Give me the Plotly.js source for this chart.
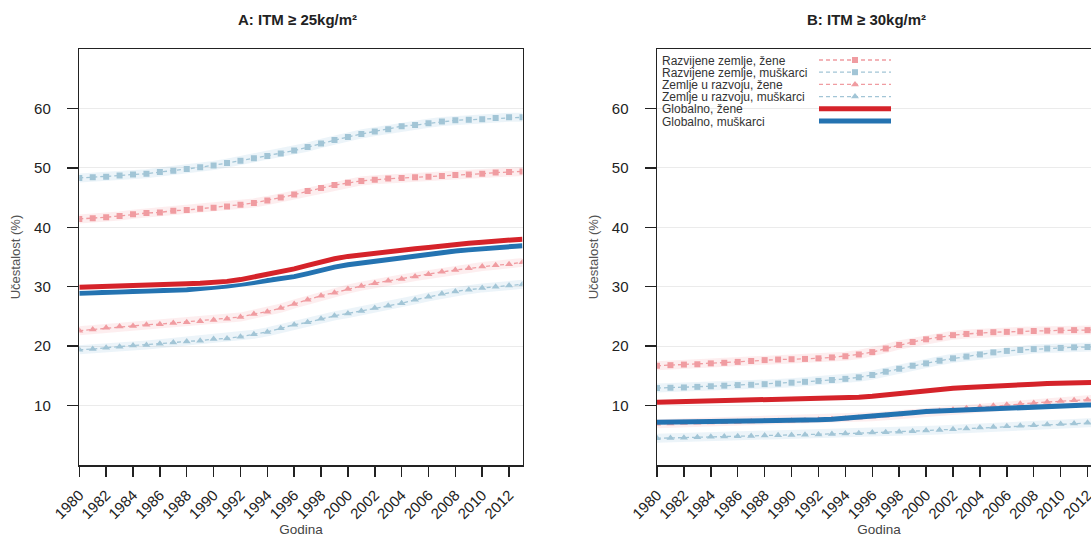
<!DOCTYPE html>
<html>
<head>
<meta charset="utf-8">
<script src="https://cdn.plot.ly/plotly-3.0.1.min.js"></script>
<style>
html, body { margin: 0; padding: 0; overflow: hidden; background: #fff; }
#chart { width: 1115px; height: 537px; }
</style>
</head>
<body>
<div id="chart"></div>
<script>
// ---------------- DATA ----------------
const years = [1980,1981,1982,1983,1984,1985,1986,1987,1988,1989,1990,1991,1992,1993,1994,1995,1996,
               1997,1998,1999,2000,2001,2002,2003,2004,2005,2006,2007,2008,2009,2010,2011,2012,2013];

const seriesNames = ['Razvijene zemlje, žene', 'Razvijene zemlje, muškarci', 'Zemlje u razvoju, žene',
                     'Zemlje u razvoju, muškarci', 'Globalno, žene', 'Globalno, muškarci'];

const panelTitles = ['A: ITM ≥ 25kg/m²', 'B: ITM ≥ 30kg/m²'];
const xTitle = 'Godina';
const yTitle = 'Učestalost (%)';
const yTickVals = [10, 20, 30, 40, 50, 60];

// Panel A: BMI >= 25
const a_devW = [41.4,41.5,41.7,41.9,42.2,42.4,42.5,42.8,42.9,43.1,43.3,43.5,43.8,44.1,44.5,45.0,45.5,
                46.1,46.6,47.1,47.5,47.8,48.0,48.2,48.3,48.4,48.5,48.65,48.8,48.9,49.0,49.2,49.3,49.4];
const a_devM = [48.3,48.4,48.5,48.7,48.9,49.0,49.3,49.5,49.8,50.1,50.4,50.8,51.2,51.6,52.0,52.4,52.9,
                53.5,54.1,54.7,55.2,55.7,56.1,56.5,57.0,57.2,57.5,57.8,58.0,58.1,58.2,58.4,58.5,58.5];
const a_dvgW = [22.6,22.8,23.1,23.3,23.4,23.6,23.7,23.9,24.0,24.2,24.4,24.6,24.9,25.4,25.8,26.4,27.1,
                27.8,28.5,29.0,29.6,30.1,30.6,31.0,31.3,31.7,32.1,32.5,32.8,33.1,33.4,33.6,33.8,34.1];
const a_dvgM = [19.4,19.5,19.75,19.9,20.1,20.2,20.4,20.6,20.8,20.9,21.2,21.3,21.6,22.0,22.4,23.0,23.6,
                24.0,24.6,25.1,25.5,25.9,26.4,26.8,27.2,27.8,28.3,28.8,29.2,29.5,29.8,30.0,30.2,30.4];
const a_gloW = [29.9,29.95,30.0,30.05,30.1,30.2,30.3,30.4,30.5,30.6,30.7,30.9,31.2,31.6,32.0,32.5,33.0,
                33.6,34.2,34.7,35.1,35.4,35.7,35.9,36.1,36.4,36.6,36.9,37.1,37.3,37.5,37.7,37.9,38.0];
const a_gloM = [28.9,28.95,29.0,29.05,29.1,29.2,29.3,29.4,29.5,29.7,29.85,30.1,30.4,30.7,31.0,31.3,31.7,
                32.2,32.8,33.3,33.7,34.0,34.4,34.7,34.9,35.2,35.5,35.8,36.0,36.2,36.4,36.6,36.8,36.9];

// Panel B: BMI >= 30
const b_devW = [16.7,16.8,16.9,16.95,17.1,17.2,17.35,17.5,17.65,17.75,17.8,17.85,17.95,18.1,18.3,18.6,19.0,
                19.6,20.2,20.7,21.15,21.5,21.85,22.05,22.25,22.35,22.4,22.5,22.55,22.6,22.65,22.7,22.7,22.75];
const b_devM = [12.95,13.0,13.05,13.15,13.25,13.35,13.45,13.5,13.6,13.7,13.85,14.0,14.15,14.3,14.5,14.75,15.15,
                15.7,16.2,16.7,17.1,17.55,17.95,18.25,18.6,18.95,19.2,19.35,19.5,19.6,19.7,19.8,19.85,19.9];
const b_dvgW = [6.95,7.0,7.05,7.1,7.15,7.2,7.25,7.3,7.35,7.4,7.45,7.5,7.6,7.7,7.8,7.95,8.1,
                8.3,8.5,8.7,8.9,9.1,9.3,9.55,9.75,9.95,10.15,10.3,10.45,10.6,10.75,10.9,11.0,11.1];
const b_dvgM = [4.5,4.55,4.6,4.65,4.75,4.8,4.85,4.9,4.95,5.0,5.05,5.1,5.15,5.2,5.3,5.35,5.45,
                5.5,5.6,5.7,5.8,5.9,6.0,6.15,6.3,6.4,6.5,6.6,6.7,6.8,6.9,7.0,7.1,7.15];
const b_gloW = [10.55,10.6,10.65,10.7,10.75,10.75,10.8,10.85,10.9,10.9,10.95,11.0,11.1,11.2,11.3,11.4,11.55,
                11.8,12.05,12.3,12.5,12.7,12.9,13.05,13.2,13.3,13.4,13.5,13.6,13.7,13.75,13.8,13.85,13.9];
const b_gloM = [7.2,7.22,7.25,7.28,7.3,7.33,7.35,7.38,7.4,7.42,7.45,7.5,7.6,7.7,7.85,8.0,8.15,
                8.35,8.6,8.8,9.0,9.1,9.25,9.4,9.5,9.6,9.7,9.75,9.8,9.9,10.0,10.05,10.1,10.15];

// ---------------- STYLE ----------------
const W = 1115, H = 537;
const FONT = 'Liberation Sans, Arial, sans-serif';
const lightRed = '#f09ca1', lightBlue = '#a2c5d6';
const ribbonRed = 'rgba(244,160,165,0.18)', ribbonBlue = 'rgba(160,200,225,0.2)';
const strongRed = '#d5232a', strongBlue = '#2473b1';

const styles = [
  {color: lightRed,  ribbon: ribbonRed,  symbol: 'square',      size: 6},
  {color: lightBlue, ribbon: ribbonBlue, symbol: 'square',      size: 6},
  {color: lightRed,  ribbon: ribbonRed,  symbol: 'triangle-up', size: 7},
  {color: lightBlue, ribbon: ribbonBlue, symbol: 'triangle-up', size: 7},
  {color: strongRed},
  {color: strongBlue}
];

const panels = [
  {xa: 'x',  ya: 'y',  series: [a_devW, a_devM, a_dvgW, a_dvgM, a_gloW, a_gloM], legend: false},
  {xa: 'x2', ya: 'y2', series: [b_devW, b_devM, b_dvgW, b_dvgM, b_gloW, b_gloM], legend: true}
];

const data = [];
panels.forEach(function (p) {
  for (let i = 0; i < 4; i++) {
    data.push({
      type: 'scatter', mode: 'lines', x: years, y: p.series[i], xaxis: p.xa, yaxis: p.ya,
      line: {color: styles[i].ribbon, width: 9}, showlegend: false, hoverinfo: 'skip'
    });
  }
  for (let i = 0; i < 4; i++) {
    data.push({
      type: 'scatter', mode: 'lines+markers', x: years, y: p.series[i], xaxis: p.xa, yaxis: p.ya,
      name: seriesNames[i], legendrank: i + 1, showlegend: p.legend,
      line: {color: styles[i].color, width: 1.3, dash: '4px,3px'},
      marker: {symbol: styles[i].symbol, size: styles[i].size, color: styles[i].color}
    });
  }
  data.push({
    type: 'scatter', mode: 'lines', x: years, y: p.series[5], xaxis: p.xa, yaxis: p.ya,
    name: seriesNames[5], legendrank: 6, showlegend: p.legend,
    line: {color: strongBlue, width: 5}
  });
  data.push({
    type: 'scatter', mode: 'lines', x: years, y: p.series[4], xaxis: p.xa, yaxis: p.ya,
    showlegend: false, hoverinfo: 'skip', line: {color: '#ffffff', width: 7}
  });
  data.push({
    type: 'scatter', mode: 'lines', x: years, y: p.series[4], xaxis: p.xa, yaxis: p.ya,
    name: seriesNames[4], legendrank: 5, showlegend: p.legend,
    line: {color: strongRed, width: 5}
  });
});

const yDom = [(H - 465) / H, (H - 49) / H];
const xDomA = [79.3 / W, 522.5 / W];
const xDomB = [657 / W, 1101 / W];

function xAxis(dom, anchor) {
  return {
    domain: dom, anchor: anchor, range: [1980, 2013], tick0: 1980, dtick: 2,
    tickangle: -45, ticks: 'outside', ticklen: 10, tickwidth: 1.5, tickcolor: '#222',
    showline: true, mirror: true, linecolor: '#222', linewidth: 1.5,
    showgrid: false, zeroline: false, ticklabelstandoff: 4,
    tickfont: {family: FONT, size: 15, color: '#222'},
    title: {text: xTitle, font: {family: FONT, size: 13.5, color: '#444'}, standoff: 10}
  };
}
function gridAxis(dom, anchor, over) {
  return {
    domain: dom, anchor: anchor, overlaying: over, range: [1980, 2013], tick0: 1980, dtick: 4,
    showgrid: true, gridcolor: '#ebebeb', gridwidth: 1, ticks: '', showticklabels: false,
    showline: false, zeroline: false
  };
}
function yAxis(anchor) {
  return {
    domain: yDom, anchor: anchor, range: [0, 70], tickvals: yTickVals,
    ticks: 'outside', ticklen: 11, tickwidth: 1.5, tickcolor: '#222',
    showline: true, mirror: true, linecolor: '#222', linewidth: 1.5,
    showgrid: true, gridcolor: '#ebebeb', gridwidth: 1, zeroline: false,
    ticklabelstandoff: 13,
    tickfont: {family: FONT, size: 15, color: '#222'},
    title: {text: yTitle, font: {family: FONT, size: 13, color: '#555'}, standoff: 10}
  };
}

const layout = {
  width: W, height: H, autosize: false,
  margin: {l: 0, r: 0, t: 0, b: 0, pad: 0},
  paper_bgcolor: '#ffffff', plot_bgcolor: '#ffffff',
  font: {family: FONT, color: '#222'},
  xaxis: xAxis(xDomA, 'y'),
  yaxis: yAxis('x'),
  xaxis2: xAxis(xDomB, 'y2'),
  yaxis2: yAxis('x2'),
  xaxis3: gridAxis(xDomA, 'y', 'x'),
  xaxis4: gridAxis(xDomB, 'y2', 'x2'),
  showlegend: true,
  legend: {
    x: 657 / W, y: 1 - 50 / H, xanchor: 'left', yanchor: 'top',
    bgcolor: 'rgba(0,0,0,0)', borderwidth: 0, itemwidth: 72,
    font: {family: FONT, size: 12, color: '#333'},
    traceorder: 'normal', itemclick: false, itemdoubleclick: false
  },
  annotations: [
    {text: '<b>' + panelTitles[0] + '</b>', xref: 'paper', yref: 'paper', x: 297 / W, y: 1 - 20 / H,
     xanchor: 'center', yanchor: 'middle', showarrow: false, font: {family: FONT, size: 15, color: '#222'}},
    {text: '<b>' + panelTitles[1] + '</b>', xref: 'paper', yref: 'paper', x: 866 / W, y: 1 - 20 / H,
     xanchor: 'center', yanchor: 'middle', showarrow: false, font: {family: FONT, size: 15, color: '#222'}}
  ]
};

const gd = document.getElementById('chart');
Plotly.newPlot(gd, data, layout, {displayModeBar: false, responsive: false, staticPlot: true})
  .then(function () { try { arrangeLegend(); } catch (e) { console.log(e); } });

// Put the legend text on the left and its keys on the right, with compact rows (as in the source figure)
function arrangeLegend() {
  const leg = gd.querySelector('g.legend');
  if (!leg) return;
  const items = Array.from(leg.querySelectorAll('g.traces'));
  leg.setAttribute('transform', 'translate(662,50)');
  const sb = leg.querySelector('g.scrollbox');
  if (sb) sb.setAttribute('transform', 'translate(0,0)');
  items.forEach(function (it, i) {
    it.setAttribute('transform', 'translate(0,' + (10 + i * 12.2) + ')');
    const t = it.querySelector('text.legendtext');
    if (t) {
      t.setAttribute('x', 0);
      t.querySelectorAll('tspan.line').forEach(function (s) { s.setAttribute('x', 0); });
    }
    const layers = it.querySelector('g.layers');
    if (layers) layers.setAttribute('transform', 'translate(152,0)');
  });
}
</script>
</body>
</html>
